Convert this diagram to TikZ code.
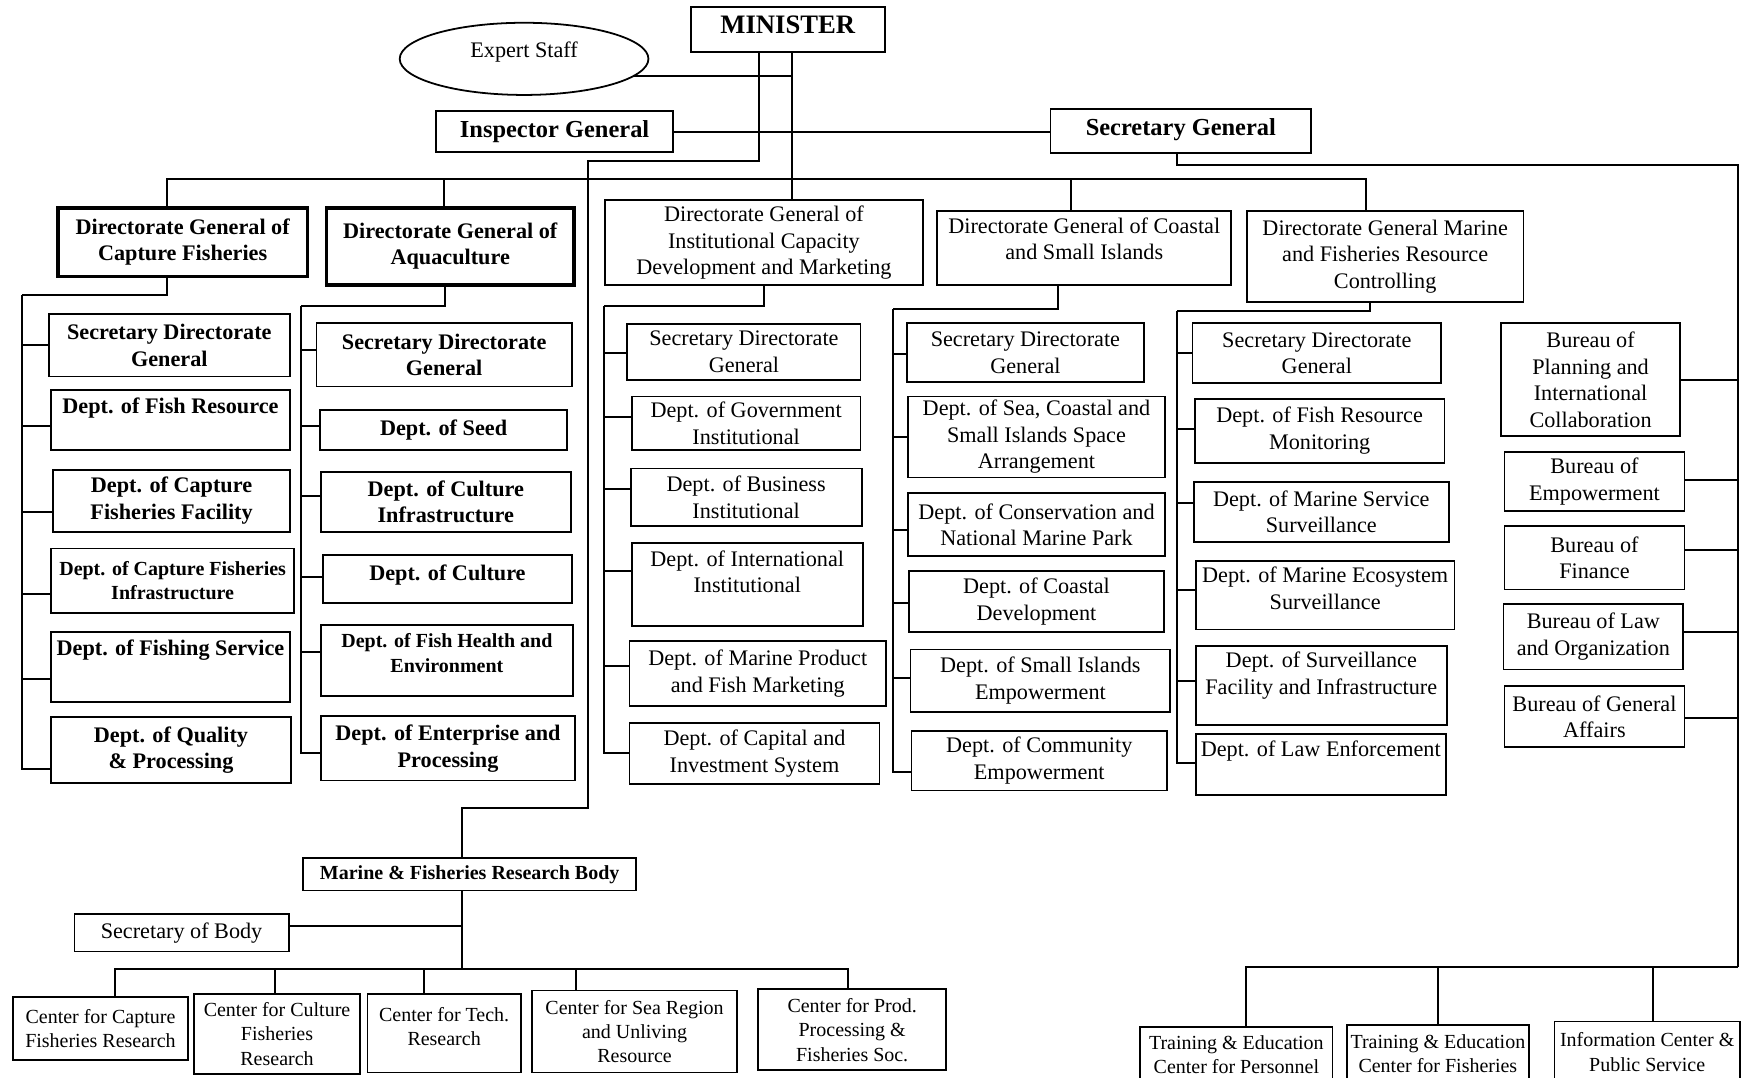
\documentclass[tikz,border=0pt]{standalone}
\usepackage{fontspec}
\setmainfont{Liberation Serif}
\usetikzlibrary{shapes.geometric}

\begin{document}
\begin{tikzpicture}[x=1pt, y=-1pt,
			corners/.style args={#1,#2,#3,#4}{at={({(#1+#3)/2},{(#2+#4)/2})}, minimum width={(#3-#1)*1pt}, minimum height={(#4-#2)*1pt}},
			box/.style={draw, rectangle, line width=1.6pt, inner sep=0pt, align=center, font=\fontsize{20}{24}\selectfont},
			bbox/.style={box, font=\bfseries\fontsize{20}{24}\selectfont},
			small/.style={font=\fontsize{18}{22}\selectfont},
			bsmall/.style={font=\bfseries\fontsize{18}{22}\selectfont},
			dg/.style={bbox, line width=3.4pt},
			lift/.style={text depth=#1},
			link/.style={line width=1.8pt}]
			
			\useasboundingbox (0,0) rectangle (1568,970);
			
			\node[bbox, font=\bfseries\fontsize{24}{28}\selectfont, lift=9pt, corners={622,6,797,47}] (minister) {MINISTER};
			\node[draw, ellipse, line width=1.6pt, inner sep=0pt, minimum width=224pt, minimum height=65pt, lift=16pt, font=\fontsize{20}{24}\selectfont] (expert) at (472,53) {Expert Staff};
			\node[bbox, font=\bfseries\fontsize{22}{26}\selectfont, corners={393,100,606,137}] (inspector) {Inspector General};
			\node[bbox, font=\bfseries\fontsize{22}{26}\selectfont, lift=8pt, corners={946,98,1181,138}] (secgen) {Secretary General};
			
			\node[dg, corners={52,187,277,249}] (dgcf) {Directorate General of\\Capture Fisheries};
			\node[dg, lift=5pt, corners={294,187,517,257}] (dgaq) {Directorate General of\\Aquaculture};
			\node[box, corners={545,180,831,257}] (dgic) {Directorate General of\\Institutional Capacity\\Development and Marketing};
			\node[box, lift=17pt, corners={844,190,1109,257}] (dgcs) {Directorate General of Coastal\\and Small Islands};
			\node[box, corners={1123,190,1372,272}] (dgmr) {Directorate General Marine\\and Fisheries Resource\\Controlling};
			
			\node[bbox, corners={44,283,261,339}] (cf1) {Secretary Directorate\\General};
			\node[bbox, lift=26pt, corners={46,351,261,405}] (cf2) {Dept. of Fish Resource};
			\node[bbox, corners={48,423,261,479}] (cf3) {Dept. of Capture\\Fisheries Facility};
			\node[bbox, bsmall, corners={46,494,265,552}] (cf4) {Dept. of Capture Fisheries\\Infrastructure};
			\node[bbox, lift=35pt, corners={46,569,261,632}] (cf5) {Dept. of Fishing Service};
			\node[bbox, corners={46,646,262,705}] (cf6) {Dept. of Quality\\\& Processing};
			
			\node[bbox, corners={285,291,515,348}] (aq1) {Secretary Directorate\\General};
			\node[bbox, corners={288,369,511,405}] (aq2) {Dept. of Seed};
			\node[bbox, corners={289,425,514,479}] (aq3) {Dept. of Culture\\Infrastructure};
			\node[bbox, lift=12pt, corners={291,500,515,543}] (aq4) {Dept. of Culture};
			\node[bbox, bsmall, lift=14pt, corners={289,563,516,627}] (aq5) {Dept. of Fish Health and\\Environment};
			\node[bbox, corners={289,645,518,703}] (aq6) {Dept. of Enterprise and\\Processing};
			
			\node[box, corners={565,292,775,342}] (ic1) {Secretary Directorate\\General};
			\node[box, corners={569,357,775,405}] (ic2) {Dept. of Government\\Institutional};
			\node[box, corners={568,422,776,474}] (ic3) {Dept. of Business\\Institutional};
			\node[box, lift=23pt, corners={569,489,777,564}] (ic4) {Dept. of International\\Institutional};
			\node[box, corners={567,577,798,636}] (ic5) {Dept. of Marine Product\\and Fish Marketing};
			\node[box, corners={567,651,792,706}] (ic6) {Dept. of Capital and\\Investment System};
			
			\node[box, corners={817,291,1030,344}] (cs1) {Secretary Directorate\\General};
			\node[box, corners={818,357,1049,430}] (cs2) {Dept. of Sea, Coastal and\\Small Islands Space\\Arrangement};
			\node[box, corners={818,444,1049,501}] (cs3) {Dept. of Conservation and\\National Marine Park};
			\node[box, corners={819,514,1048,569}] (cs4) {Dept. of Coastal\\Development};
			\node[box, corners={820,585,1054,641}] (cs5) {Dept. of Small Islands\\Empowerment};
			\node[box, corners={821,658,1051,712}] (cs6) {Dept. of Community\\Empowerment};
			
			\node[box, corners={1074,291,1298,345}] (mr1) {Secretary Directorate\\General};
			\node[box, corners={1076,359,1301,417}] (mr2) {Dept. of Fish Resource\\Monitoring};
			\node[box, corners={1075,434,1305,488}] (mr3) {Dept. of Marine Service\\Surveillance};
			\node[box, lift=12pt, corners={1077,505,1310,567}] (mr4) {Dept. of Marine Ecosystem\\Surveillance};
			\node[box, lift=23pt, corners={1077,582,1303,653}] (mr5) {Dept. of Surveillance\\Facility and Infrastructure};
			\node[box, lift=29pt, corners={1077,661,1302,716}] (mr6) {Dept. of Law Enforcement};
			
			\node[box, corners={1352,291,1513,393}] (bu1) {Bureau of\\Planning and\\International\\Collaboration};
			\node[box, corners={1355,407,1517,460}] (bu2) {Bureau of\\Empowerment};
			\node[box, corners={1355,474,1517,531}] (bu3) {Bureau of\\Finance};
			\node[box, corners={1354,544,1516,603}] (bu4) {Bureau of Law\\and Organization};
			\node[box, corners={1355,618,1517,673}] (bu5) {Bureau of General\\Affairs};
			
			\node[bbox, bsmall, corners={273,773,573,802}] (rbody) {Marine \& Fisheries Research Body};
			\node[box, corners={67,823,260,857}] (sob) {Secretary of Body};
			\node[box, small, corners={12,898,169,955}] (c1) {Center for Capture\\Fisheries Research};
			\node[box, small, corners={175,895,324,967}] (c2) {Center for Culture\\Fisheries\\Research};
			\node[box, small, lift=12pt, corners={331,895,469,966}] (c3) {Center for Tech.\\Research};
			\node[box, small, corners={479,892,664,966}] (c4) {Center for Sea Region\\and Unliving\\Resource};
			\node[box, small, corners={683,891,852,964}] (c5) {Center for Prod.\\Processing \&\\Fisheries Soc.};
			
			\node[box, small, corners={1027,925,1200,975}] (tr1) {Training \& Education\\Center for Personnel};
			\node[box, small, corners={1213,923,1377,975}] (tr2) {Training \& Education\\Center for Fisheries};
			\node[box, small, corners={1400,920,1567,975}] (tr3) {Information Center \&\\Public Service};
			
			\coordinate (trunk) at (713,161);
			\coordinate (ltrunk) at (684,145);
			\coordinate (rsline) at (530,145);
			\coordinate (rsbot) at (530,728);
			\coordinate (rsdrop) at (416,728);
			\coordinate (rfork) at (416,873);
			\coordinate (bus1) at (150,161);
			\coordinate (bus2) at (400,161);
			\coordinate (bus4) at (965,161);
			\coordinate (bus5) at (1230,161);
			\coordinate (cfturn) at (150,266);
			\coordinate (cfsp) at (20,266);
			\coordinate (aqturn) at (401,276);
			\coordinate (aqsp) at (271,276);
			\coordinate (icturn) at (688,276);
			\coordinate (icsp) at (544,276);
			\coordinate (csturn) at (953,278);
			\coordinate (cssp) at (804,278);
			\coordinate (mrturn) at (1234,280);
			\coordinate (mrsp) at (1060,280);
			\coordinate (sgturn) at (1060,149);
			\coordinate (busr) at (1565,149);
			\coordinate (tbus) at (1565,871);
			
			\draw[link] (minister.south -| trunk) -- (trunk |- dgic.north);
			\draw[link] (minister.south -| ltrunk) -- (ltrunk) -- (rsline) -- (rsbot) -- (rsdrop) -- (rsdrop |- rbody.north);
			\draw[link] (expert.-9) -- (expert.-9 -| trunk);
			\draw[link] (inspector.east) -- (inspector.east -| secgen.west);
			
			\draw[link] (bus1 |- dgcf.north) -- (bus1) -- (bus5) -- (bus5 |- dgmr.north);
			\draw[link] (bus2) -- (bus2 |- dgaq.north);
			\draw[link] (bus4) -- (bus4 |- dgcs.north);
			
			\draw[link] (cfturn |- dgcf.south) -- (cfturn) -- (cfsp);
			\draw[link] (aqturn |- dgaq.south) -- (aqturn) -- (aqsp);
			\draw[link] (icturn |- dgic.south) -- (icturn) -- (icsp);
			\draw[link] (csturn |- dgcs.south) -- (csturn) -- (cssp);
			\draw[link] (mrturn |- dgmr.south) -- (mrturn) -- (mrsp);
			
			\foreach \n/\d in {cf1/0, cf2/-6, cf3/-10, cf4/-12, cf5/-11, cf6/-17}
				\draw[link] (cfsp) |- ([yshift=\d pt]\n.west);
			\foreach \n/\d in {aq1/4, aq2/3, aq3/5, aq4/2, aq5/8, aq6/-4}
				\draw[link] (aqsp) |- ([yshift=\d pt]\n.west);
			\foreach \n/\d in {ic1/-1, ic2/5, ic3/8, ic4/12, ic5/7, ic6/0}
				\draw[link] (icsp) |- ([yshift=\d pt]\n.west);
			\foreach \n/\d in {cs1/-1, cs2/0, cs3/-5, cs4/-2, cs5/2, cs6/-10}
				\draw[link] (cssp) |- ([yshift=\d pt]\n.west);
			\foreach \n/\d in {mr1/0, mr2/2, mr3/8, mr4/5, mr5/4, mr6/1}
				\draw[link] (mrsp) |- ([yshift=\d pt]\n.west);
			
			\draw[link] (sgturn |- secgen.south) -- (sgturn) -- (busr) -- (tbus);
			\foreach \n/\d in {bu1/0, bu2/1, bu3/7, bu4/4, bu5/-1}
				\draw[link] (busr) |- ([yshift=\d pt]\n.east);
			\foreach \n/\s in {tr1/9, tr2/0, tr3/5}
				\draw[link] (tbus) -| ([xshift=\s pt]\n.north);
			
			\draw[link] (rfork |- rbody.south) -- (rfork);
			\draw[link] ([yshift=6pt]sob.east) -- ([yshift=6pt]sob.east -| rfork);
			\foreach \n/\s in {c1/13, c2/-2, c3/-18, c4/-53, c5/-4}
				\draw[link] (rfork) -| ([xshift=\s pt]\n.north);
			
		\end{tikzpicture}
\end{document}
